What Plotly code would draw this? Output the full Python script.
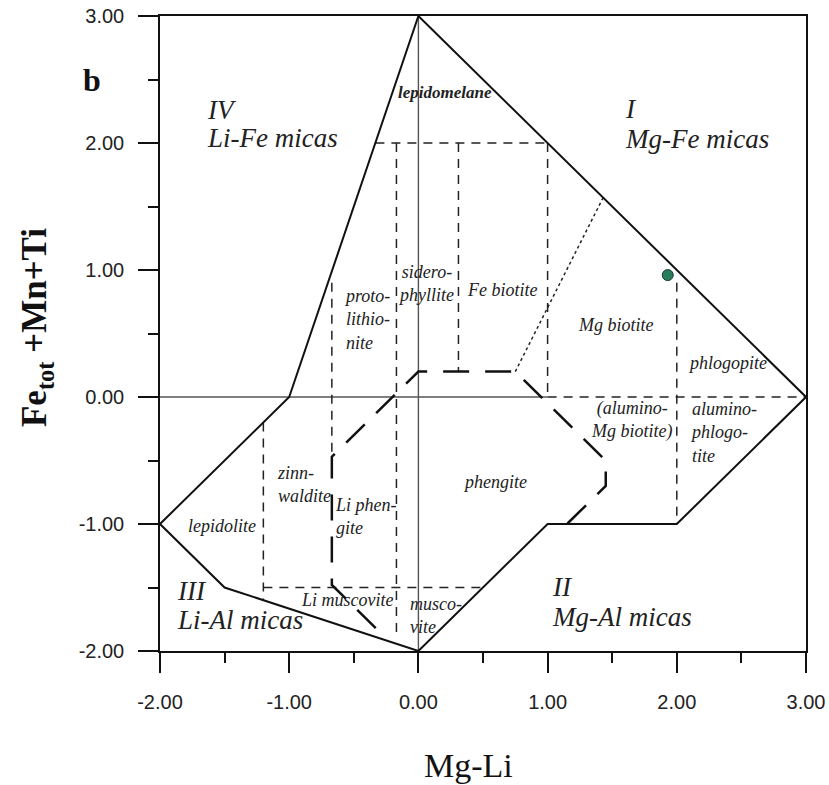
import plotly.graph_objects as go

# ---- data ----
tick_vals = [-2, -1, 0, 1, 2, 3]
tick_text = ["-2.00", "-1.00", "0.00", "1.00", "2.00", "3.00"]

boundary_x = [0, -1, -2, -1.5, 0, 1, 2, 3, 0]
boundary_y = [3, 0, -1, -1.5, -2, -1, -1, 0, 3]

zero_v_x = [0, 0]
zero_v_y = [-2, 3]
zero_h_x = [-2, 1]
zero_h_y = [0, 0]

dashed_lines = [
    ([-0.333, 1.0], [2.0, 2.0]),
    ([-0.17, -0.17], [2.0, -1.85]),
    ([0.31, 0.31], [2.0, 0.2]),
    ([1.0, 1.0], [2.0, 0.0]),
    ([1.0, 3.0], [0.0, 0.0]),
    ([-0.67, -0.67], [0.9, -0.47]),
    ([-1.2, -1.2], [-0.2, -1.6]),
    ([-1.2, 0.5], [-1.5, -1.5]),
    ([2.0, 2.0], [0.9, -1.0]),
]

longdash_x = [-0.33, -0.67, -0.67, 0.0, 0.75, 1.45, 1.45, 1.15]
longdash_y = [-1.82, -1.48, -0.47, 0.2, 0.2, -0.5, -0.7, -1.0]

dotted_x = [0.75, 1.43]
dotted_y = [0.2, 1.57]

sample_x = [1.93]
sample_y = [0.96]

big_labels = [
    ("IV", -1.652, 2.257), ("Li-Fe micas", -1.652, 2.037),
    ("I", 1.583, 2.265), ("Mg-Fe micas", 1.583, 2.029),
    ("III", -1.885, -1.530), ("Li-Al micas", -1.885, -1.758),
    ("II", 1.018, -1.498), ("Mg-Al micas", 1.018, -1.735),
]

center_labels = [
    ("sidero-<br>phyllite", 0.058, 0.895),
    ("Fe biotite", 0.646, 0.840),
    ("Mg biotite", 1.529, 0.565),
    ("phlogopite", 2.395, 0.265),
    ("(alumino-<br>Mg biotite)", 1.652, -0.183),
    ("phengite", 0.592, -0.672),
    ("lepidolite", -1.521, -1.013),
    ("Li muscovite", -0.546, -1.601),
]

left_labels = [
    ("proto-<br>lithio-<br>nite", -0.592, 0.612),
    ("alumino-<br>phlogo-<br>tite", 2.086, -0.278),
    ("zinn-<br>waldite", -1.111, -0.687),
    ("Li phen-<br>gite", -0.662, -0.939),
    ("musco-<br>vite", -0.081, -1.719),
]

# ---- figure ----
fig = go.Figure()

fig.add_trace(go.Scatter(x=zero_v_x, y=zero_v_y, mode="lines",
                         line=dict(color="#555555", width=1.4), hoverinfo="skip"))
fig.add_trace(go.Scatter(x=zero_h_x, y=zero_h_y, mode="lines",
                         line=dict(color="#555555", width=1.4), hoverinfo="skip"))

for lx, ly in dashed_lines:
    fig.add_trace(go.Scatter(x=lx, y=ly, mode="lines",
                             line=dict(color="#222222", width=1.5, dash="9px,7px"),
                             hoverinfo="skip"))

fig.add_trace(go.Scatter(x=longdash_x, y=longdash_y, mode="lines",
                         line=dict(color="#111111", width=2.5, dash="26px,16px"),
                         hoverinfo="skip"))

fig.add_trace(go.Scatter(x=dotted_x, y=dotted_y, mode="lines",
                         line=dict(color="#222222", width=1.5, dash="dot"),
                         hoverinfo="skip"))

fig.add_trace(go.Scatter(x=boundary_x, y=boundary_y, mode="lines",
                         line=dict(color="#111111", width=2), hoverinfo="skip"))

fig.add_trace(go.Scatter(x=sample_x, y=sample_y, mode="markers",
                         marker=dict(size=11, color="#2a7d5c",
                                     line=dict(color="#1a3a2e", width=1)),
                         hoverinfo="skip"))

serif = "Liberation Serif, Times New Roman, serif"

annotations = []
for t, x, y in big_labels:
    annotations.append(dict(text=t, x=x, y=y, xref="x", yref="y", xanchor="left",
                            yanchor="middle", showarrow=False,
                            font=dict(family=serif, size=27, color="#222222", style="italic")))
for t, x, y in center_labels:
    annotations.append(dict(text=t, x=x, y=y, xref="x", yref="y", xanchor="center",
                            yanchor="middle", showarrow=False, align="center",
                            font=dict(family=serif, size=18, color="#222222", style="italic")))
for t, x, y in left_labels:
    annotations.append(dict(text=t, x=x, y=y, xref="x", yref="y", xanchor="left",
                            yanchor="middle", showarrow=False, align="left",
                            font=dict(family=serif, size=18, color="#222222", style="italic")))
annotations.append(dict(text="<b>lepidomelane</b>", x=0.205, y=2.40, xref="x", yref="y",
                        xanchor="center", yanchor="middle", showarrow=False,
                        font=dict(family=serif, size=17, color="#222222", style="italic")))
annotations.append(dict(text="<b>b</b>", x=-0.105, y=0.899, xref="paper", yref="paper",
                        xanchor="center", yanchor="middle", showarrow=False,
                        font=dict(family=serif, size=32, color="#111111")))
annotations.append(dict(text="Mg-Li", x=0.477, y=-0.18, xref="paper", yref="paper",
                        xanchor="center", yanchor="middle", showarrow=False,
                        font=dict(family=serif, size=34, color="#111111")))
annotations.append(dict(text="<b>Fe<sub>tot</sub> +Mn+Ti</b>", x=-0.19, y=0.509,
                        xref="paper", yref="paper", xanchor="center", yanchor="middle",
                        textangle=-90, showarrow=False,
                        font=dict(family=serif, size=35, color="#111111")))

axis_common = dict(
    tickvals=tick_vals, ticktext=tick_text,
    ticks="outside", ticklen=20, tickwidth=1.5, tickcolor="#111111",
    showline=True, linecolor="#111111", linewidth=1.5, mirror=True,
    showgrid=False, zeroline=False, automargin=False,
    tickfont=dict(family="Liberation Sans, Arial, sans-serif", size=20, color="#222222"),
    minor=dict(ticks="outside", ticklen=10, tickwidth=1.5, tickcolor="#111111",
               dtick=0.5, tick0=0, showgrid=False),
)

fig.update_layout(
    width=829, height=785,
    margin=dict(l=160, r=23, t=16, b=134),
    plot_bgcolor="white", paper_bgcolor="white",
    showlegend=False,
    xaxis=dict(range=[-2, 3], ticklabelstandoff=12, **axis_common),
    yaxis=dict(range=[-2, 3], ticklabelstandoff=10, **axis_common),
    annotations=annotations,
)

fig.write_html("out.html")
